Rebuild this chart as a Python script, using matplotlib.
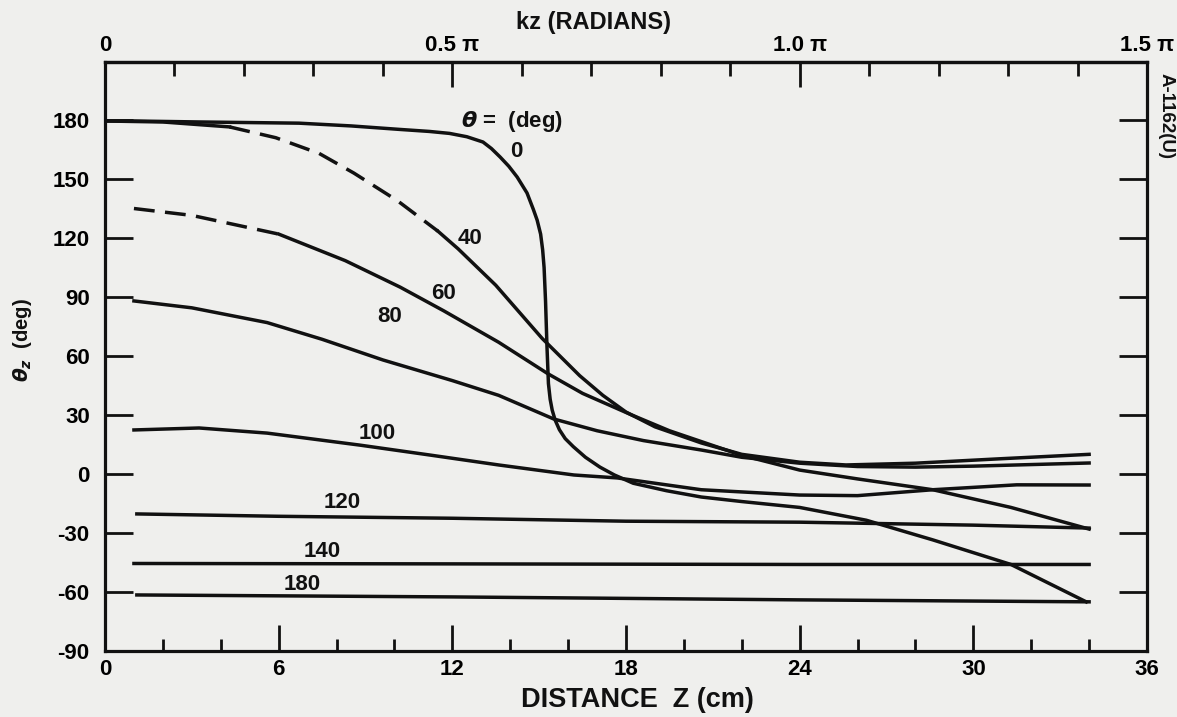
import matplotlib
matplotlib.use("Agg")
import matplotlib.pyplot as plt
import numpy as np

# ---------------- data ----------------
theta0_x = [0, 1, 3.3, 6.7, 8.5, 10.2, 11.2, 11.9, 12.5, 13.06, 13.35, 13.65, 13.95, 14.24, 14.58,
            14.8, 14.93, 15.05, 15.12, 15.17, 15.22, 15.27, 15.32, 15.38, 15.45, 15.55, 15.7,
            15.9, 16.18, 16.6, 17.1, 17.6, 18.25, 19.4, 20.6, 22, 24, 26.3, 28.6, 31.3, 33.9]
theta0_y = [179.5, 179.5, 179, 178.4, 177, 175.2, 174.2, 173.2, 171.5, 168.8, 165.5, 161.2, 156.5, 151,
            142.9, 134.5, 129.1, 122, 114, 105, 88, 64.7, 46, 38, 32.5, 27.5, 22.5,
            18, 13.9, 8.5, 3.5, -0.5, -4.7, -8.5, -11.7, -14, -17, -23.5, -33.5, -46, -65]

theta40_x = [0, 2, 4.3, 5.9, 7.4, 8.6, 10.1, 11.5, 12.2, 13.5, 15.1, 16.4, 17.2, 18.0, 19.0,
             20.6, 22, 24, 25.6, 28, 31, 34]
theta40_y = [179.5, 179, 176.5, 171, 163, 153, 139, 123.5, 114.5, 96, 69, 50, 40, 31.5, 24,
             15.8, 10, 6, 4.6, 5.5, 7.8, 10]

theta60_x = [1.0, 3, 6, 8.3, 10.2, 11.7, 13.6, 15.3, 16.5, 18.2, 19.5, 20.6, 22, 24, 26,
             28.6, 31.3, 34]
theta60_y = [135, 131.5, 122, 108.5, 95, 83, 67, 51, 41, 30, 22, 16.5, 9.5, 2, -2.5,
             -8, -17, -28]

theta80_x = [1.0, 3, 5.6, 7.5, 9.6, 12, 13.6, 15.5, 17, 18.6, 20.6, 22, 24, 26, 28, 30, 34]
theta80_y = [88, 84.5, 77, 68.5, 58, 47.5, 40, 28, 22, 17, 12.2, 8.5, 5.5, 3.8, 3.5, 4, 5.6]

theta100_x = [1.0, 3.25, 5.6, 8.8, 11.2, 13.6, 16.2, 17.7, 20.6, 24, 26, 28.6, 31.5, 34]
theta100_y = [22.4, 23.4, 20.8, 14.7, 9.7, 4.6, -0.5, -2, -8, -10.7, -11, -8, -5.5, -5.6]

theta120_x = [1.1, 6, 12, 18, 24, 30, 34]
theta120_y = [-20.3, -21.5, -22.5, -24, -24.5, -26, -27.5]

theta140_x = [1.0, 12, 24, 34]
theta140_y = [-45.5, -45.7, -46, -46]

theta180_x = [1.1, 12, 24, 34]
theta180_y = [-61.5, -62.5, -64, -65]

curve_labels = ["0", "40", "60", "80", "100", "120", "140", "180"]
label_x = [14.2, 12.6, 11.7, 9.85, 9.4, 8.2, 7.5, 6.8]
label_y = [164, 120, 92, 80, 20.8, -14.7, -39.6, -56.4]

y_ticks = [-90, -60, -30, 0, 30, 60, 90, 120, 150, 180]
y_ticklabels = ["-90", "-60", "-30", "0", "30", "60", "90", "120", "150", "180"]
x_major = [0, 6, 12, 18, 24, 30, 36]
x_ticklabels = ["0", "6", "12", "18", "24", "30", "36"]
top_major = [0, 12, 24, 36]
top_ticklabels = ["0", "0.5 π", "1.0 π", "1.5 π"]

# ---------------- figure ----------------
BG = "#efefed"
INK = "#111111"
plt.rcParams['font.family'] = ['Liberation Sans', 'DejaVu Sans']
plt.rcParams['font.weight'] = 'bold'
plt.rcParams['mathtext.fontset'] = 'dejavusans'

FS = 16

fig = plt.figure(figsize=(11.77, 7.17), dpi=100, facecolor=BG)
ax = fig.add_axes([105 / 1177, 1 - 651 / 717, (1147 - 105) / 1177, (651 - 62) / 717])
ax.set_facecolor(BG)
ax.set_xlim(0, 36)
ax.set_ylim(-90, 209.5)

LW = 2.5
dash = (0, (6.0, 3.0))


def seg(xs, ys, lo, hi):
    xs = np.asarray(xs, float)
    ys = np.asarray(ys, float)
    m = (xs >= lo) & (xs <= hi)
    return xs[m], ys[m]


ax.plot(theta0_x, theta0_y, color=INK, lw=LW, solid_joinstyle='round')

x, y = seg(theta40_x, theta40_y, 0, 4.3)
ax.plot(x, y, color=INK, lw=LW)
x, y = seg(theta40_x, theta40_y, 4.3, 11.5)
ax.plot(x, y, color=INK, lw=LW, linestyle=dash)
x, y = seg(theta40_x, theta40_y, 11.5, 40)
ax.plot(x, y, color=INK, lw=LW, solid_joinstyle='round')

x, y = seg(theta60_x, theta60_y, 0, 6.0)
ax.plot(x, y, color=INK, lw=LW, linestyle=dash)
x, y = seg(theta60_x, theta60_y, 6.0, 40)
ax.plot(x, y, color=INK, lw=LW, solid_joinstyle='round')

for xs, ys in [(theta80_x, theta80_y), (theta100_x, theta100_y), (theta120_x, theta120_y),
               (theta140_x, theta140_y), (theta180_x, theta180_y)]:
    ax.plot(xs, ys, color=INK, lw=LW, solid_joinstyle='round')

for t, lx, ly in zip(curve_labels, label_x, label_y):
    ax.text(lx, ly, t, ha='center', va='center', fontsize=FS, fontweight='bold', color=INK)

ax.text(12.3, 179, r'$\theta$ =  (deg)', ha='left', va='center', fontsize=FS,
        fontweight='bold', color=INK)

# spines
for s in ax.spines.values():
    s.set_linewidth(2.3)
    s.set_color(INK)

# bottom / left ticks
ax.set_xticks(x_major)
ax.set_xticklabels(x_ticklabels)
ax.set_xticks(np.arange(2, 36, 2), minor=True)
ax.set_yticks(y_ticks)
ax.set_yticklabels(y_ticklabels)
ax.tick_params(axis='x', which='major', direction='in', length=19, width=2, color=INK,
               labelsize=FS, pad=6, bottom=True, top=False)
ax.tick_params(axis='x', which='minor', direction='in', length=9, width=2, color=INK,
               bottom=True, top=False)
ax.tick_params(axis='y', which='major', direction='in', length=20, width=2, color=INK,
               labelsize=FS, pad=11, left=True, right=True)
ax.tick_params(axis='y', which='minor', left=False, right=False)
for lab in ax.get_xticklabels() + ax.get_yticklabels():
    lab.set_fontweight('bold')

# top axis (kz)
top = ax.secondary_xaxis('top')
top.set_xticks(top_major)
top.set_xticklabels(top_ticklabels)
top.set_xticks(np.arange(2.4, 36, 2.4), minor=True)
top.tick_params(axis='x', which='major', direction='in', length=18, width=2, color=INK,
                labelsize=FS, pad=4)
top.tick_params(axis='x', which='minor', direction='in', length=10, width=2, color=INK)
top.spines['top'].set_linewidth(2.3)
for lab in top.get_xticklabels():
    lab.set_fontweight('bold')

fig.text(593 / 1177, 1 - 22 / 717, 'kz (RADIANS)', ha='center', va='center',
         fontsize=17, fontweight='bold', color=INK)
fig.text(637 / 1177, 1 - 700 / 717, 'DISTANCE  Z (cm)', ha='center', va='center',
         fontsize=19.5, fontweight='bold', color=INK)
fig.text(22 / 1177, 1 - 340 / 717, r'$\theta_z$  (deg)', ha='center', va='center',
         rotation=90, fontsize=14.5, fontweight='bold', color=INK)
fig.text(1166 / 1177, 1 - 116 / 717, 'A-1162(U)', ha='center', va='center',
         rotation=270, fontsize=13.5, fontweight='bold', color=INK)

fig.savefig('out.png', dpi=100, facecolor=BG)
